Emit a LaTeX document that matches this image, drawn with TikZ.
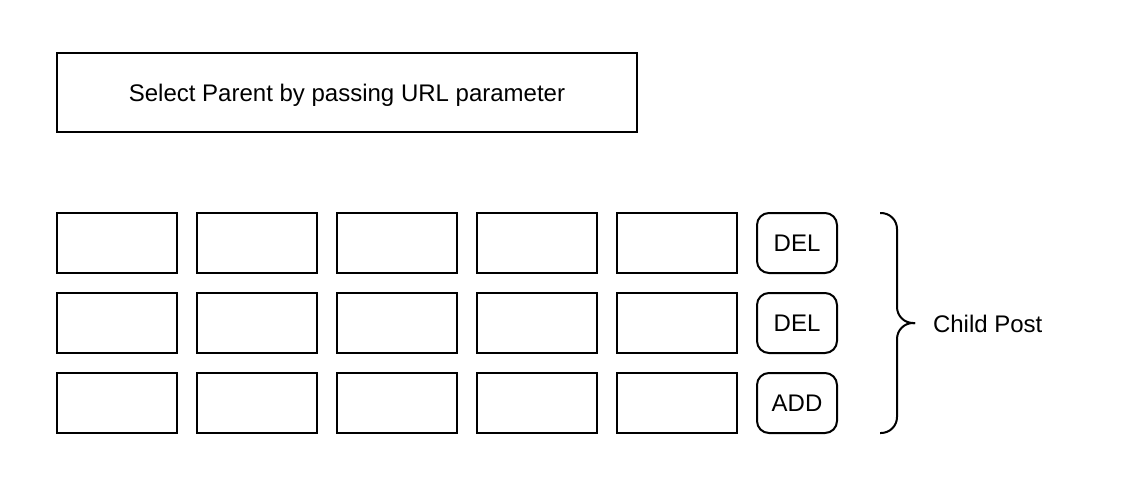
\documentclass[tikz,border=0pt]{standalone}
\usepackage{fontspec}
\setmainfont{Liberation Sans}

\begin{document}
\begin{tikzpicture}[x=0.5pt,y=-0.5pt,line width=1pt,font=\fontsize{12}{14}\selectfont]
  \tikzstyle{cell}=[draw,rectangle,inner sep=0pt,minimum width=60pt,minimum height=30pt]
  \tikzstyle{button}=[cell,rounded corners=6pt,minimum width=40pt]

  \useasboundingbox (0,0) rectangle (1138,482);

  \draw (347,92.5) node[cell,minimum width=290pt,minimum height=39.5pt,text depth=0pt] (parent) {Select Parent by passing URL parameter};

  \draw (117,243) node[cell] (A1) {};
  \draw (257,243) node[cell] (A2) {};
  \draw (397,243) node[cell] (A3) {};
  \draw (537,243) node[cell] (A4) {};
  \draw (677,243) node[cell] (A5) {};
  \draw (797,243) node[button] (delA) {DEL};

  \draw (117,323) node[cell] (B1) {};
  \draw (257,323) node[cell] (B2) {};
  \draw (397,323) node[cell] (B3) {};
  \draw (537,323) node[cell] (B4) {};
  \draw (677,323) node[cell] (B5) {};
  \draw (797,323) node[button] (delB) {DEL};

  \draw (117,403) node[cell] (C1) {};
  \draw (257,403) node[cell] (C2) {};
  \draw (397,403) node[cell] (C3) {};
  \draw (537,403) node[cell] (C4) {};
  \draw (677,403) node[cell] (C5) {};
  \draw (797,403) node[button] (add) {ADD};

  % brace
  \coordinate (top) at (880,213);
  \coordinate (bottom) at (880,433);
  \coordinate (mid) at (897,323);
  \coordinate (tip) at (915,323);
  \draw[rounded corners=8pt] (top) -| (mid) -- (tip);
  \draw[rounded corners=8pt] (bottom) -| (mid) -- (tip);

  \node[anchor=west,inner sep=0pt] (child) at (932,324) {Child Post};

\end{tikzpicture}
\end{document}
